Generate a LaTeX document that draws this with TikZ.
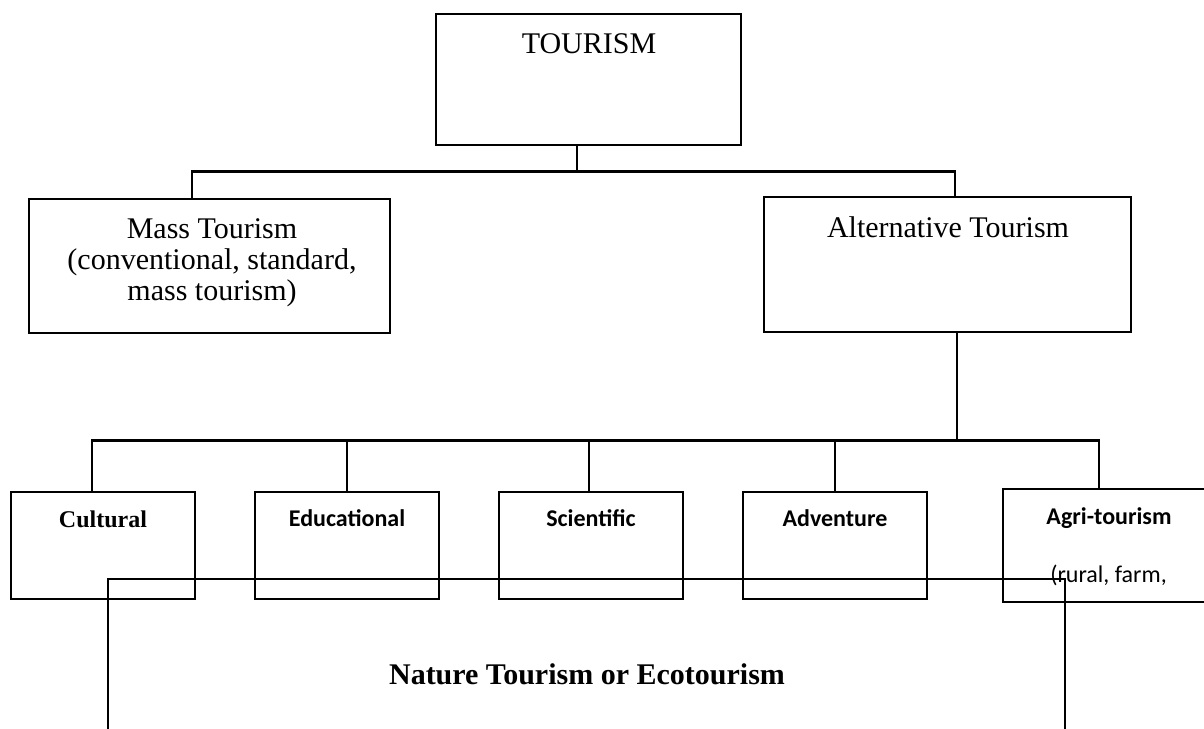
\documentclass[tikz,border=0pt]{standalone}
\usepackage{fontspec}
\setmainfont{Liberation Serif}
\newfontfamily\calfont{Carlito}
\begin{document}
\begin{tikzpicture}[x=1pt,y=-1pt,
  box/.style={draw,line width=2.7pt,rectangle,inner sep=0pt},
  conn/.style={line width=2.7pt},
  bigtxt/.style={font=\fontsize{30}{31}\selectfont,inner sep=0pt,anchor=base,align=center},
  sertxt/.style={font=\fontsize{24}{26}\selectfont\bfseries,inner sep=0pt,anchor=base},
  caltxt/.style={font=\fontsize{24}{26}\selectfont\calfont\bfseries,inner sep=0pt,anchor=base},
  calreg/.style={font=\fontsize{24}{26}\selectfont\calfont,inner sep=0pt,anchor=base},
  ecotxt/.style={font=\fontsize{30}{31}\selectfont\bfseries,inner sep=0pt,anchor=base}]
\clip (0,0) rectangle (1204,728);
\fill[white] (0,0) rectangle (1204,728);
% boxes
\node[box,minimum width=305pt,minimum height=131pt] (tour) at (588.5,79.5) {};
\node[box,minimum width=361pt,minimum height=134pt] (mass) at (209.5,266) {};
\node[box,minimum width=367pt,minimum height=135pt] (alt) at (947.5,264.5) {};
\node[box,minimum width=184pt,minimum height=107pt] (cult) at (103,545.5) {};
\node[box,minimum width=184pt,minimum height=107pt] (edu) at (347,545.5) {};
\node[box,minimum width=184pt,minimum height=107pt] (sci) at (591,545.5) {};
\node[box,minimum width=184pt,minimum height=107pt] (adv) at (835,545.5) {};
\node[box,minimum width=230pt,minimum height=113pt] (agri) at (1118,545.5) {};
\node[box,minimum width=957pt,minimum height=200pt] (nat) at (586.5,679) {};
% texts
\node[bigtxt] (tourt) at (589,53) {TOURISM};
\node[bigtxt] (masst) at (212,300) {Mass Tourism\\(conventional, standard,\\mass tourism)};
\node[bigtxt] (altt) at (948,237) {Alternative Tourism};
\node[sertxt] (cultt) at (103,527) {Cultural};
\node[caltxt] (edut) at (347,526) {Educational};
\node[caltxt] (scit) at (591,526) {Scientific};
\node[caltxt] (advt) at (835,526) {Adventure};
\node[caltxt] (agrit) at (1109,524) {Agri-tourism};
\node[calreg] (agrit2) at (1108.5,582) {(rural, farm,};
\node[ecotxt] (natt) at (587,684) {Nature Tourism or Ecotourism};
% connectors
\draw[conn] ([xshift=-11.5pt]tour.south) -- ++(0,25) coordinate (j1);
\draw[conn] ([xshift=-17.5pt]mass.north) |- (j1) -| ([xshift=7.5pt]alt.north);
\draw[conn] ([xshift=9.5pt]alt.south) -- ++(0,107) coordinate (j2);
\draw[conn] ([xshift=-11pt]cult.north) |- (j2) -| ([xshift=-19pt]agri.north);
\draw[conn] (edu.north) -- (edu.north |- j2);
\draw[conn] ([xshift=-2pt]sci.north) -- ([xshift=-2pt]sci.north |- j2);
\draw[conn] (adv.north) -- (adv.north |- j2);
\end{tikzpicture}
\end{document}
